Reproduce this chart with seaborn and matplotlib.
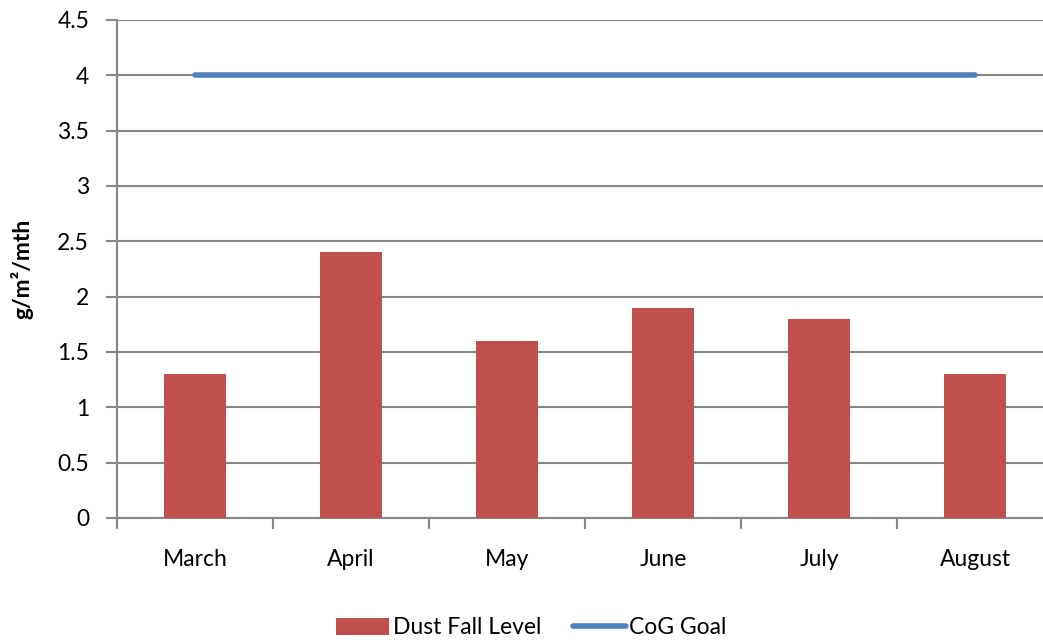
import matplotlib
matplotlib.use("Agg")
import matplotlib.pyplot as plt
import seaborn as sns
import pandas as pd
from matplotlib.patches import Patch
from matplotlib.lines import Line2D

months = ["March", "April", "May", "June", "July", "August"]
dust_fall = [1.3, 2.4, 1.6, 1.9, 1.8, 1.3]
cog_goal = [4, 4, 4, 4, 4, 4]
y_ticks = [0, 0.5, 1, 1.5, 2, 2.5, 3, 3.5, 4, 4.5]
y_tick_labels = ["0", "0.5", "1", "1.5", "2", "2.5", "3", "3.5", "4", "4.5"]

sns.set_theme(style="white")
plt.rcParams['font.family'] = ['Lato', 'DejaVu Sans']

bar_color = "#C0504D"
line_color = "#4F81BD"
grid_color = "#868686"
FS = 16.5

df = pd.DataFrame({"month": months, "dust": dust_fall, "goal": cog_goal})

fig = plt.figure(figsize=(10.43, 6.42), dpi=100)
# plot area extends past the right edge of the image, as in the reference
ax = fig.add_axes([117/1043, 1 - 518/642, 936/1043, (518-20)/642])

sns.barplot(data=df, x="month", y="dust", color=bar_color, width=0.40,
            saturation=1, linewidth=0, ax=ax, zorder=3)
ax.plot(range(len(months)), df["goal"], color=line_color, lw=4,
        solid_capstyle="round", zorder=4)

ax.set_xlim(-0.5, len(months) - 0.5)
ax.set_ylim(0, 4.5)
ax.set_yticks(y_ticks)
ax.set_yticklabels(y_tick_labels, fontsize=FS, color="#000000")
ax.yaxis.grid(True, color=grid_color, lw=1.5, zorder=0)
ax.set_axisbelow(True)

ax.set_xticks([i - 0.5 for i in range(len(months) + 1)], minor=False)
ax.set_xticklabels([])
ax.set_xticks(range(len(months)), minor=True)
ax.set_xticklabels(months, minor=True, fontsize=FS, color="#000000")
ax.tick_params(axis="x", which="major", direction="out", length=8, width=1.5,
               color=grid_color, bottom=True)
ax.tick_params(axis="x", which="minor", length=0, pad=22)
ax.tick_params(axis="y", direction="out", length=8, width=1.5,
               color=grid_color, left=True, pad=12)

for s in ["top", "right"]:
    ax.spines[s].set_visible(False)
for s in ["left", "bottom"]:
    ax.spines[s].set_color(grid_color)
    ax.spines[s].set_linewidth(1.5)

ax.set_xlabel("")
ax.set_ylabel("g/m²/mth", fontsize=FS, fontweight="bold", color="#000000")
ax.yaxis.set_label_coords((34 - 117) / 936, 0.5)

handles = [Patch(facecolor=bar_color, edgecolor="none", label="Dust Fall Level"),
           Line2D([0], [0], color=line_color, lw=4, label="CoG Goal")]
fig.legend(handles=handles, loc="center", bbox_to_anchor=(531.5/1043, 1 - 628/642),
           ncol=2, frameon=False, fontsize=FS, handlelength=2.3,
           handletextpad=0.15, columnspacing=1.4, labelcolor="#000000")

fig.savefig("out.png", dpi=100)
